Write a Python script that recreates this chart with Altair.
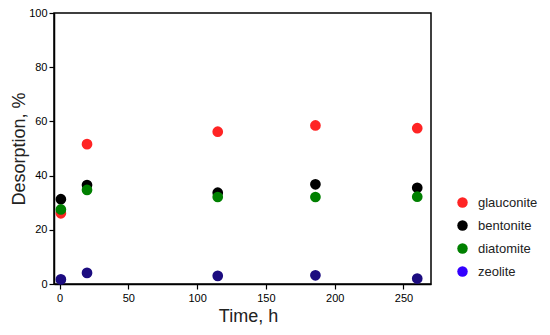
import altair as alt
import pandas as pd

times = [1, 20, 115, 186, 260]
series = ["glauconite", "bentonite", "diatomite", "zeolite"]
glauconite = [26.1, 51.6, 56.2, 58.5, 57.5]
bentonite = [31.3, 36.5, 33.7, 36.8, 35.5]
diatomite = [27.5, 34.7, 32.1, 32.1, 32.2]
zeolite = [1.7, 4.1, 3.0, 3.2, 2.0]

point_colors = ["#FF2424", "#000000", "#008000", "#1C0C80"]
legend_colors = ["#FF2424", "#000000", "#008000", "#3300FF"]

rows = []
for name, vals in zip(series, [glauconite, bentonite, diatomite, zeolite]):
    for t, v in zip(times, vals):
        rows.append({"time": t, "value": v, "series": name})
df = pd.DataFrame(rows)
df["order"] = df["series"].map({s: i for i, s in enumerate(series)})

font = "Liberation Sans"

x = alt.X(
    "time:Q",
    scale=alt.Scale(domain=[-4, 270], nice=False, zero=False),
    axis=alt.Axis(
        title="Time, h",
        values=list(range(0, 251, 25)),
        labelExpr="datum.value % 50 == 0 ? datum.label : ''",
        grid=False,
        tickSize=5,
        tickColor="black",
        tickWidth=1.2,
        domainColor="black",
        domainWidth=1.5,
        labelFontSize=11,
        labelColor="black",
        labelFont=font,
        labelPadding=3,
        titleFontSize=18,
        titleFont=font,
        titleFontWeight="normal",
        titleColor="#222222",
        titlePadding=4,
        titleX=194,
    ),
)
y = alt.Y(
    "value:Q",
    scale=alt.Scale(domain=[0, 100], nice=False),
    axis=alt.Axis(
        title="Desorption, %",
        values=list(range(0, 101, 10)),
        labelExpr="datum.value % 20 == 0 ? datum.label : ''",
        grid=False,
        tickSize=5,
        tickColor="black",
        tickWidth=1.2,
        domainColor="black",
        domainWidth=1.5,
        labelFontSize=11,
        labelColor="black",
        labelFont=font,
        labelPadding=2,
        titleFontSize=18,
        titleFont=font,
        titleFontWeight="normal",
        titleColor="#222222",
        titlePadding=0,
    ),
)

points = alt.Chart(df).mark_circle(size=115, opacity=1).encode(
    x=x,
    y=y,
    color=alt.Color(
        "series:N",
        scale=alt.Scale(domain=series, range=point_colors),
        legend=None,
    ),
    order=alt.Order("order:Q"),
)

legend_layer = alt.Chart(df).mark_circle(size=115, opacity=0).encode(
    x="time:Q",
    y="value:Q",
    fill=alt.Fill(
        "series:N",
        scale=alt.Scale(domain=series, range=legend_colors),
        legend=alt.Legend(
            title=None,
            orient="none",
            legendX=402,
            legendY=183,
            symbolType="circle",
            symbolSize=110,
            symbolOpacity=1,
            symbolStrokeWidth=0,
            labelFontSize=13,
            labelFont=font,
            labelColor="#222222",
            labelOffset=9,
            rowPadding=9,
            padding=0,
        ),
    ),
)

chart = (
    alt.layer(points, legend_layer)
    .resolve_scale(color="independent", fill="independent")
    .properties(
        width=377,
        height=271,
        autosize=alt.AutoSizeParams(type="none"),
        padding={"left": 46, "top": 5, "right": 111, "bottom": 43},
        background="white",
    )
    .configure_view(stroke="black", strokeWidth=1.5)
)

chart.save("out.html", embed_options={"renderer": "svg", "actions": False})
